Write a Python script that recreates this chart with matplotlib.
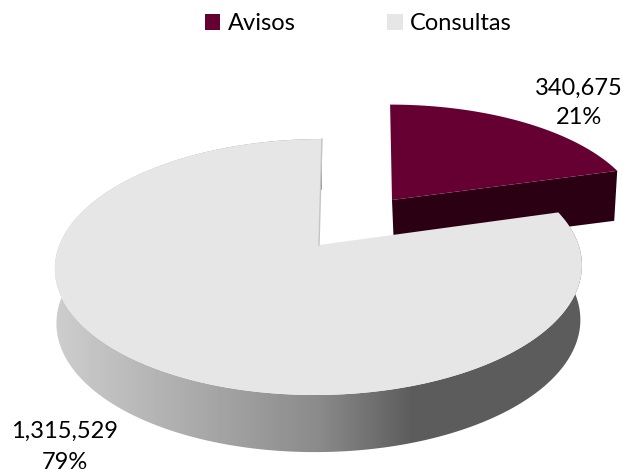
import numpy as np
import matplotlib
matplotlib.use("Agg")
import matplotlib.pyplot as plt
from matplotlib.patches import Patch, Polygon

#data
categorias = ["Avisos", "Consultas"]
valores = [340675, 1315529]
cores = ["#660033", "#e6e6e6"]

plt.rcParams['font.family'] = ['Lato', 'DejaVu Sans']

fig = plt.figure(figsize=(6.23, 4.75), dpi=100)
ax = fig.add_axes([0, 0, 1, 1])
ax.set_xlim(0, 623)
ax.set_ylim(475, 0)
ax.axis("off")

total = sum(valores)
ang_avisos = valores[0] / total * 360
ang_consultas = valores[1] / total * 360


#pie circle seen in perspective, angles in degrees
def projeta(ang, cx, cy, raio=1.0, skew=0.0, z=0.0, esc_y=1.0):
    t = np.radians(ang)
    u = np.cos(t) * raio
    v = np.sin(t) * raio
    w = 1 + 0.172 * v
    x = 259.6 * u / w
    y = 124.2 * v / w * esc_y
    d = z * (54 - 4 * v)
    escala = 1 - 0.006 * z
    return cx + (x + skew * y) * escala, cy - y * escala + d


#avisos slice, pulled out from the pie
t_av = np.linspace(90 - ang_avisos, 90, 80)
xa, ya = projeta(t_av, 392, 200, raio=0.945, skew=-0.02, esc_y=0.945)
ax.fill([392, xa[0], xa[0] - 3, 394], [200, ya[0], ya[0] + 50, 249], color="#2a0012", lw=0, zorder=1)
ax.fill(np.r_[392, xa], np.r_[200, ya], color=cores[0], lw=0, zorder=2)

#consultas slice
cx, cy = 319, 245
t_co = np.linspace(90, 90 + ang_consultas, 300)
xt, yt = projeta(t_co, cx, cy, skew=0.028)
xf, yf = projeta(t_co, cx, cy, skew=0.028, z=1.0)

#side with the grey gradient
lado = Polygon(np.c_[np.r_[xt, xf[::-1]], np.r_[yt, yf[::-1]]], closed=True, fc="none", ec="none")
ax.add_patch(lado)
pos = np.array([50, 212, 320, 412, 600])
cinza = np.array([0.81, 0.65, 0.54, 0.36, 0.36])
col = np.arange(623)
grad = np.interp(col, pos, cinza)[None, :]
im = ax.imshow(grad, cmap="gray", vmin=0, vmax=1, extent=[0, 623, 475, 0], aspect="auto", zorder=3)
im.set_clip_path(lado)
ax.set_xlim(0, 623)
ax.set_ylim(475, 0)

ax.fill(np.r_[cx, xt], np.r_[cy, yt], color=cores[1], lw=0, zorder=4)
ax.plot([cx, xt[0]], [cy, yt[0]], color="#c4c4c4", lw=1, zorder=5)

#labels
ax.text(579, 103, f"{valores[0]:,}\n{valores[0] / total:.0%}", ha="center", va="center",
        fontsize=17, linespacing=1.5, color="black", zorder=6)
ax.text(65, 447, f"{valores[1]:,}\n{valores[1] / total:.0%}", ha="center", va="center",
        fontsize=17, linespacing=1.55, color="black", zorder=6)

handles = [Patch(facecolor=c, edgecolor="none") for c in cores]
fig.legend(handles, categorias, loc="upper left", bbox_to_anchor=(184 / 623, 1 + 8 / 475), ncol=2,
           frameon=False, fontsize=17, handlelength=0.64, handleheight=0.64, handletextpad=0.3,
           columnspacing=3.9, borderpad=0.4)

fig.savefig("out.png", dpi=100)
